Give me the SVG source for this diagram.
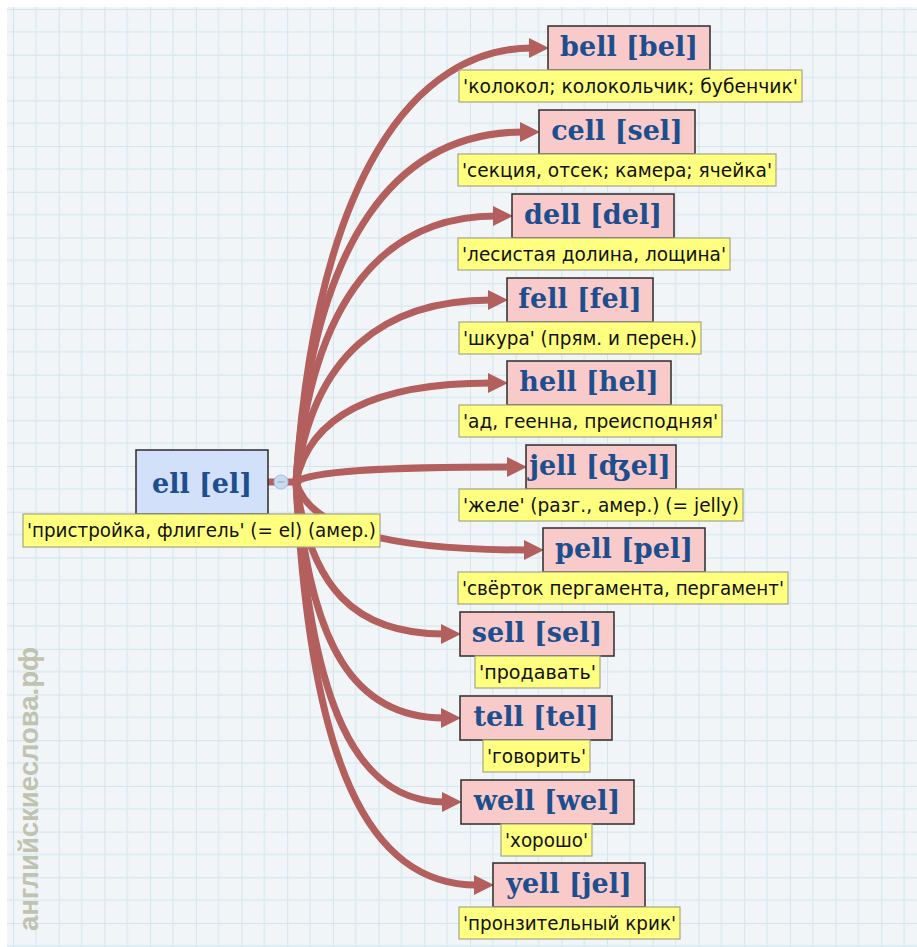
<svg xmlns="http://www.w3.org/2000/svg" width="917" height="947" viewBox="0 0 917 947">
<style>
.node{fill:#f9caca;stroke:#2b2b2b;stroke-width:1.5}
.root{fill:#d3e0fa;stroke:#2b2b2b;stroke-width:1.5}
.lbl{fill:#ffff80;stroke:#a6a68a;stroke-width:1.2}
.nt{font-family:"DejaVu Serif",serif;font-weight:bold;font-size:27px;fill:#1d4f8f;text-anchor:middle}
.lt{font-family:"DejaVu Sans",sans-serif;font-size:19px;fill:#111}
.con{fill:none;stroke:#b35f5e;stroke-width:7;stroke-linecap:round}
</style>
<defs>
<pattern id="grid" patternUnits="userSpaceOnUse" x="13" y="9" width="45.7" height="45.7">
<path d="M0,0 V45.7 M0,0 H45.7" stroke="#d0e5ee" stroke-width="2" fill="none"/>
<path d="M22.85,0 V45.7 M0,22.85 H45.7" stroke="#d9ebf2" stroke-width="1.4" fill="none"/>
</pattern>
<marker id="ah" markerUnits="userSpaceOnUse" markerWidth="20" markerHeight="20" refX="3" refY="10" orient="auto" viewBox="0 0 20 20">
<path d="M0,0 L20,10 L0,20 z" fill="#b35f5e"/>
</marker>
</defs>
<rect x="0" y="0" width="917" height="947" fill="#ffffff"/>
<rect x="7" y="7" width="910" height="940" fill="#f2f5f7"/>
<rect x="7" y="7" width="910" height="940" fill="url(#grid)"/>
<text transform="translate(38,931) rotate(-90)" font-family="Liberation Sans,Arial,sans-serif" font-weight="bold" font-size="27" fill="#c0c3ad" textLength="284" lengthAdjust="spacingAndGlyphs">английскиеслова.рф</text>
<g id="connectors">
<path class="con" d="M268,482 H298"/>
<path class="con" marker-end="url(#ah)" d="M296,482 C316,178 414,48 532,48"/>
<path class="con" marker-end="url(#ah)" d="M296,482 C312,237 398,132 523,132"/>
<path class="con" marker-end="url(#ah)" d="M296,482 C312,296 386,216 496,216"/>
<path class="con" marker-end="url(#ah)" d="M296,482 C312,355 384,300 491,300"/>
<path class="con" marker-end="url(#ah)" d="M296,482 C310,413 380,383 491,383"/>
<path class="con" marker-end="url(#ah)" d="M296,482 C310,471 382,467 510,467"/>
<path class="con" marker-end="url(#ah)" d="M296,482 C310,530 388,550 527,550"/>
<path class="con" marker-end="url(#ah)" d="M296,482 C310,588 355,634 444,634"/>
<path class="con" marker-end="url(#ah)" d="M296,482 C310,647 355,718 444,718"/>
<path class="con" marker-end="url(#ah)" d="M296,482 C310,706 356,802 445,802"/>
<path class="con" marker-end="url(#ah)" d="M296,482 C310,764 368,885 477,885"/>
</g>
<g id="n-ell">
<rect class="root" x="136" y="450" width="132" height="64"/>
<text class="nt" x="202" y="493">ell [el]</text>
<rect class="lbl" x="23" y="514" width="357" height="33"/>
<text class="lt" x="27" y="537" textLength="349" lengthAdjust="spacingAndGlyphs">'пристройка, флигель' (= el) (амер.)</text>
<circle cx="281" cy="482" r="7" fill="#cadaf3" stroke="#a3bbdf" stroke-width="1"/>
<path d="M277.5,482 H284.5" stroke="#8ea3c4" stroke-width="1"/>
</g>
<g id="n-bell">
<rect class="node" x="548" y="26" width="162" height="44"/>
<text class="nt" x="629" y="56">bell [bel]</text>
<rect class="lbl" x="459" y="70" width="343" height="32"/>
<text class="lt" x="463" y="93" textLength="335" lengthAdjust="spacingAndGlyphs">'колокол; колокольчик; бубенчик'</text>
</g>
<g id="n-cell">
<rect class="node" x="539" y="110" width="156" height="44"/>
<text class="nt" x="617" y="140">cell [sel]</text>
<rect class="lbl" x="458" y="154" width="318" height="32"/>
<text class="lt" x="462" y="177" textLength="310" lengthAdjust="spacingAndGlyphs">'секция, отсек; камера; ячейка'</text>
</g>
<g id="n-dell">
<rect class="node" x="512" y="194" width="162" height="44"/>
<text class="nt" x="593" y="224">dell [del]</text>
<rect class="lbl" x="458" y="238" width="272" height="32"/>
<text class="lt" x="462" y="261" textLength="264" lengthAdjust="spacingAndGlyphs">'лесистая долина, лощина'</text>
</g>
<g id="n-fell">
<rect class="node" x="507" y="278" width="146" height="44"/>
<text class="nt" x="580" y="308">fell [fel]</text>
<rect class="lbl" x="459" y="322" width="242" height="32"/>
<text class="lt" x="463" y="345" textLength="234" lengthAdjust="spacingAndGlyphs">'шкура' (прям. и перен.)</text>
</g>
<g id="n-hell">
<rect class="node" x="507" y="361" width="164" height="44"/>
<text class="nt" x="589" y="391">hell [hel]</text>
<rect class="lbl" x="459" y="405" width="263" height="32"/>
<text class="lt" x="463" y="428" textLength="255" lengthAdjust="spacingAndGlyphs">'ад, геенна, преисподняя'</text>
</g>
<g id="n-jell">
<rect class="node" x="526" y="445" width="150" height="44"/>
<text class="nt" x="600" y="475">jell [ʤel]</text>
<rect class="lbl" x="459" y="489" width="284" height="32"/>
<text class="lt" x="463" y="512" textLength="276" lengthAdjust="spacingAndGlyphs">'желе' (разг., амер.) (= jelly)</text>
</g>
<g id="n-pell">
<rect class="node" x="543" y="528" width="162" height="44"/>
<text class="nt" x="624" y="558">pell [pel]</text>
<rect class="lbl" x="458" y="572" width="330" height="32"/>
<text class="lt" x="462" y="595" textLength="322" lengthAdjust="spacingAndGlyphs">'свёрток пергамента, пергамент'</text>
</g>
<g id="n-sell">
<rect class="node" x="460" y="612" width="154" height="44"/>
<text class="nt" x="537" y="642">sell [sel]</text>
<rect class="lbl" x="475" y="656" width="125" height="32"/>
<text class="lt" x="479" y="679" textLength="117" lengthAdjust="spacingAndGlyphs">'продавать'</text>
</g>
<g id="n-tell">
<rect class="node" x="460" y="696" width="152" height="44"/>
<text class="nt" x="536" y="726">tell [tel]</text>
<rect class="lbl" x="483" y="740" width="107" height="32"/>
<text class="lt" x="487" y="763" textLength="99" lengthAdjust="spacingAndGlyphs">'говорить'</text>
</g>
<g id="n-well">
<rect class="node" x="461" y="780" width="173" height="44"/>
<text class="nt" x="547" y="810">well [wel]</text>
<rect class="lbl" x="501" y="824" width="91" height="32"/>
<text class="lt" x="505" y="847" textLength="83" lengthAdjust="spacingAndGlyphs">'хорошо'</text>
</g>
<g id="n-yell">
<rect class="node" x="493" y="863" width="152" height="44"/>
<text class="nt" x="569" y="893">yell [jel]</text>
<rect class="lbl" x="459" y="907" width="221" height="32"/>
<text class="lt" x="463" y="930" textLength="213" lengthAdjust="spacingAndGlyphs">'пронзительный крик'</text>
</g>
</svg>
